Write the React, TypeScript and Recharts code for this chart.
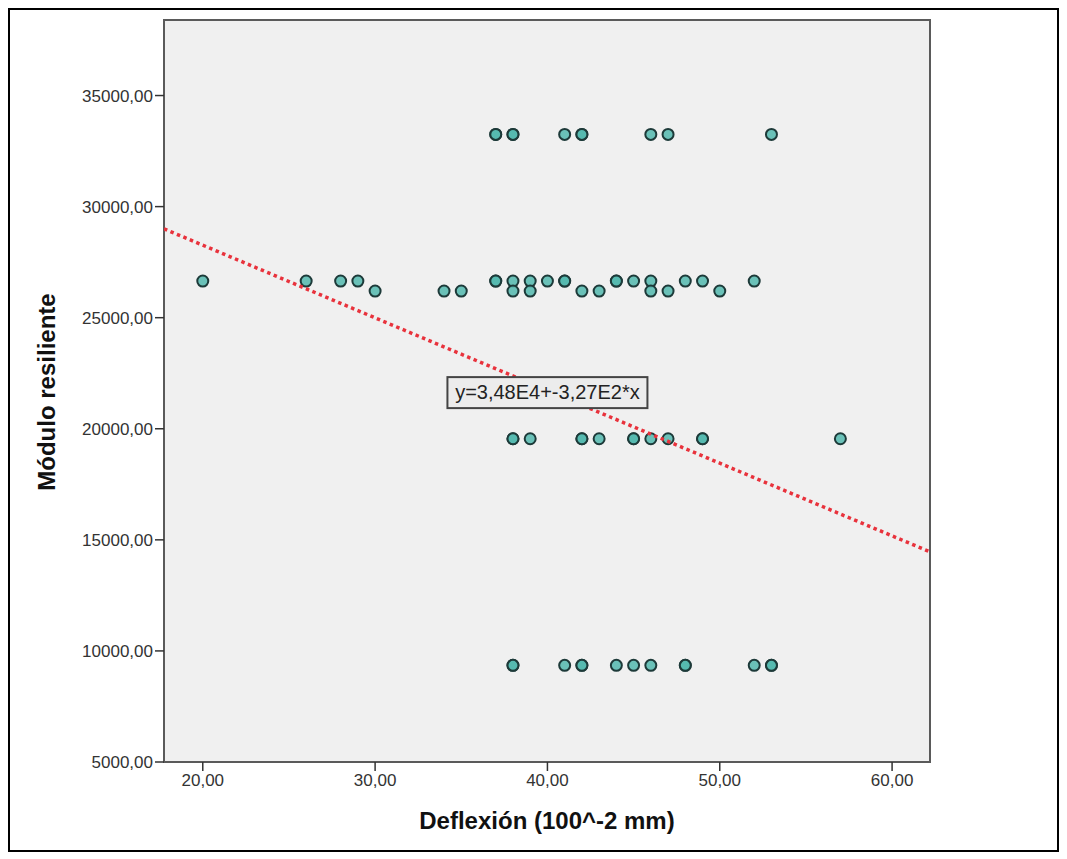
import { ReferenceArea, ReferenceDot, Scatter, ScatterChart, XAxis, YAxis } from "recharts";

// Deflexión (100^-2 mm) per row of Módulo resiliente
const ROW_33250 = [37, 37, 38, 38, 41, 42, 42, 46, 47, 53];
const ROW_26650 = [20, 26, 28, 29, 37, 37, 38, 39, 40, 41, 41, 44, 44, 45, 46, 48, 49, 52];
const ROW_26200 = [30, 34, 35, 38, 39, 42, 43, 46, 47, 50];
const ROW_19550 = [38, 38, 39, 42, 42, 43, 45, 45, 46, 47, 49, 49, 57];
const ROW_9350 = [38, 38, 41, 42, 42, 44, 45, 46, 48, 48, 52, 53, 53];

const ROWS: [number, number[]][] = [
  [33250, ROW_33250],
  [26650, ROW_26650],
  [26200, ROW_26200],
  [19550, ROW_19550],
  [9350, ROW_9350],
];

// fitted line end points, read at the plot edges
const FIT_LINE = [
  { x: 17.75, y: 29000 },
  { x: 62.2, y: 14460 },
];

const X_TICKS = [20, 30, 40, 50, 60];
const Y_TICKS = [5000, 10000, 15000, 20000, 25000, 30000, 35000];
const X_DOMAIN = [17.75, 62.2];
const Y_DOMAIN = [5000, 38400];

const EQUATION = "y=3,48E4+-3,27E2*x";

const points = ROWS.flatMap(([y, xs]) => xs.map((x) => ({ x, y })));

const FONT = "'Liberation Sans', Arial, sans-serif";
const fmt = (v: number) => v.toFixed(2).replace(".", ",");

function Dot(props: any) {
  const { cx, cy } = props;
  if (cx == null || cy == null) return <g />;
  return <circle cx={cx} cy={cy} r={5.5} fill="#52b9ae" fillOpacity={0.85} stroke="#1d3a39" strokeWidth={2} />;
}

function EquationBox(props: any) {
  const { cx, cy } = props;
  return (
    <g>
      <rect x={cx - 100} y={cy - 15} width={200} height={31} fill="#ececec" stroke="#444" strokeWidth={2} />
      <text x={cx} y={cy + 7} textAnchor="middle" fontSize={20} fontFamily={FONT} fill="#222">
        {EQUATION}
      </text>
    </g>
  );
}

export default function App() {
  return (
    <div
      style={{
        position: "relative",
        width: 1051,
        height: 844,
        boxSizing: "border-box",
        border: "2px solid #000",
        background: "#fff",
        fontFamily: FONT,
      }}
    >
      <ScatterChart width={1047} height={840} margin={{ top: 10, right: 127, bottom: 0, left: 0 }}>
        <ReferenceArea
          x1={X_DOMAIN[0]}
          x2={X_DOMAIN[1]}
          y1={Y_DOMAIN[0]}
          y2={Y_DOMAIN[1]}
          fill="#f0f0f0"
          fillOpacity={1}
          stroke="#5a5a5a"
          strokeWidth={2}
          ifOverflow="extendDomain"
        />
        <XAxis
          type="number"
          dataKey="x"
          domain={X_DOMAIN}
          ticks={X_TICKS}
          allowDataOverflow
          height={88}
          axisLine={false}
          tickLine={{ stroke: "#333", strokeWidth: 1.5 }}
          tickSize={9}
          tickMargin={3}
          tickFormatter={fmt}
          tick={{ fontSize: 17, fill: "#333", fontFamily: FONT }}
        />
        <YAxis
          type="number"
          dataKey="y"
          domain={Y_DOMAIN}
          ticks={Y_TICKS}
          allowDataOverflow
          width={154}
          axisLine={false}
          tickLine={{ stroke: "#333", strokeWidth: 1.5 }}
          tickSize={9}
          tickMargin={2}
          tickFormatter={fmt}
          tick={{ fontSize: 17, fill: "#333", fontFamily: FONT }}
        />
        <Scatter data={points} shape={<Dot />} isAnimationActive={false} />
        <Scatter
          data={FIT_LINE}
          line={{ stroke: "#e8323c", strokeWidth: 3.5, strokeDasharray: "3.5 3.5" }}
          shape={() => <g />}
          isAnimationActive={false}
        />
        <ReferenceDot x={40} y={21650} r={0} shape={(p: any) => <EquationBox {...p} />} />
      </ScatterChart>
      <div
        style={{
          position: "absolute",
          left: 537 - 250,
          top: 797,
          width: 500,
          textAlign: "center",
          fontSize: 24,
          fontWeight: "bold",
          color: "#111",
        }}
      >
        Deflexión (100^-2 mm)
      </div>
      <div
        style={{
          position: "absolute",
          left: 37 - 150,
          top: 382 - 15,
          width: 300,
          height: 30,
          lineHeight: "30px",
          textAlign: "center",
          fontSize: 24,
          fontWeight: "bold",
          color: "#111",
          transform: "rotate(-90deg)",
        }}
      >
        Módulo resiliente
      </div>
    </div>
  );
}
